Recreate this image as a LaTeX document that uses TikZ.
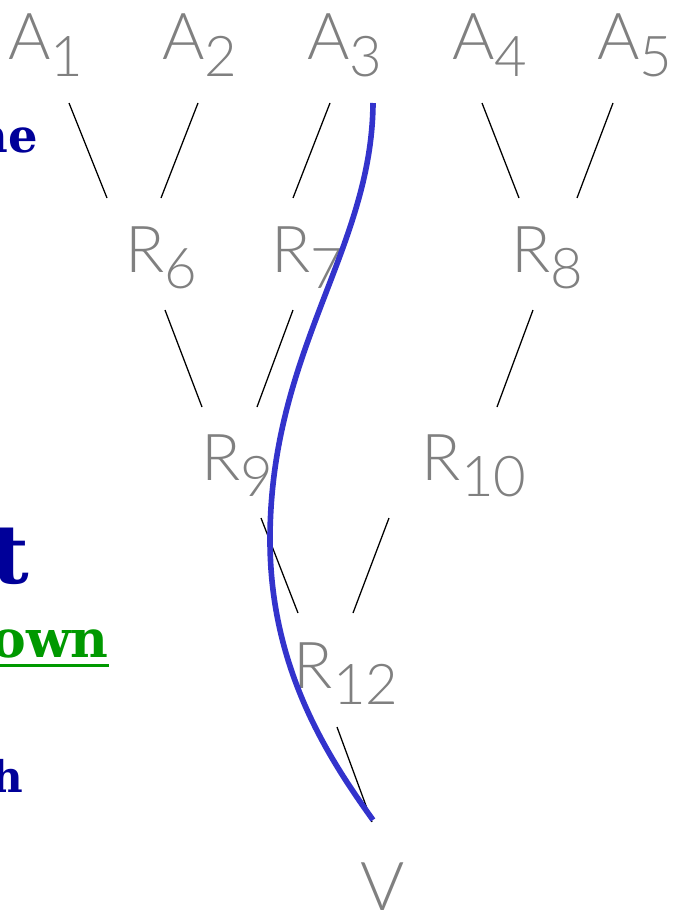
\documentclass[tikz,border=0pt]{standalone}
\usepackage{fontspec}
\usepackage{xcolor}
\usetikzlibrary{positioning, calc}

\newfontfamily\labelfont{Lato Light}
\newfontfamily\slidefont{DejaVu Serif}
\definecolor{slideblue}{RGB}{0,0,153}
\definecolor{slidegreen}{RGB}{0,153,0}
\definecolor{pathblue}{RGB}{51,51,204}
\newcommand{\tlabel}[2]{{\fontsize{46}{46}\selectfont #1}\raisebox{-12pt}{\fontsize{40}{40}\selectfont #2}}

\tikzset{
    tree label/.style={anchor=base, inner sep=0pt, text=black!50, font=\labelfont},
    tree edge/.style={black, line width=0.9pt},
    slide text/.style={anchor=base east, inner sep=0pt, font=\slidefont\bfseries}
}

\begin{document}
\begin{tikzpicture}[x=0.025cm, y=-0.025cm]
    \useasboundingbox (0,0) rectangle (679,913);

    % Left margin text (cut off)
    \node[slide text, text=slideblue, font=\slidefont\bfseries\fontsize{33}{33}\selectfont] (ne) at (38,152) {ne};
    \node[slide text, text=slideblue, font=\slidefont\bfseries\fontsize{58}{58}\selectfont] (t) at (29,583) {t};
    \node[slide text, text=slideblue, font=\slidefont\bfseries\fontsize{31}{31}\selectfont] (h) at (23,792) {h};
    \node[slide text, text=slidegreen, font=\slidefont\bfseries\fontsize{37}{37}\selectfont] (own) at (109,657) {own};
    \draw[slidegreen, line width=2pt] ([yshift=-6pt]own.base west) -- ([yshift=-6pt]own.base east);

    % Leaves
    \foreach \i/\x in {1/46, 2/200, 3/345, 4/490, 5/635} {
        \node[tree label] (A\i) at (\x,60) {\tlabel{A}{\i}};
    }

    % Inner nodes
    \node[tree label] (R6) at (161,272) {\tlabel{R}{6}};
    \node[tree label] (R7) at (307,272) {\tlabel{R}{7}};
    \node[tree label] (R8) at (547,272) {\tlabel{R}{8}};
    \node[tree label] (R9) at (237,480) {\tlabel{R}{9}};
    \node[tree label] (R10) at (474,480) {\tlabel{R}{10}};
    \node[tree label] (R12) at (346,688) {\tlabel{R}{12}};
    \node[tree label] (V) at (383,910) {\fontsize{48}{48}\selectfont V};

    % Edges
    \foreach \p/\px/\py/\c/\cx/\cy in {
        A1/23/43/R6/-54/-74, A2/-2/43/R6/0/-74, A3/-15/43/R7/-14/-74,
        A4/-8/43/R8/-28/-74, A5/-22/43/R8/30/-74,
        R6/4/38/R9/-35/-73, R7/-14/38/R9/20/-73, R8/-14/38/R10/23/-73,
        R9/24/38/R12/-48/-75, R10/-85/38/R12/7/-75,
        R12/-9/39/V/-11/-88} {
        \draw[tree edge] ([shift={(\px,\py)}]\p.base) -- ([shift={(\cx,\cy)}]\c.base);
    }

    % Path from A3 down to V
    \draw[pathblue, line width=4pt] ([shift={(28,43)}]A3.base)
        .. controls (372,250) and (270,350) .. (270,540)
        .. controls (270,670) and (330,760) .. ([shift={(-10,-90)}]V.base);
\end{tikzpicture}
\end{document}
